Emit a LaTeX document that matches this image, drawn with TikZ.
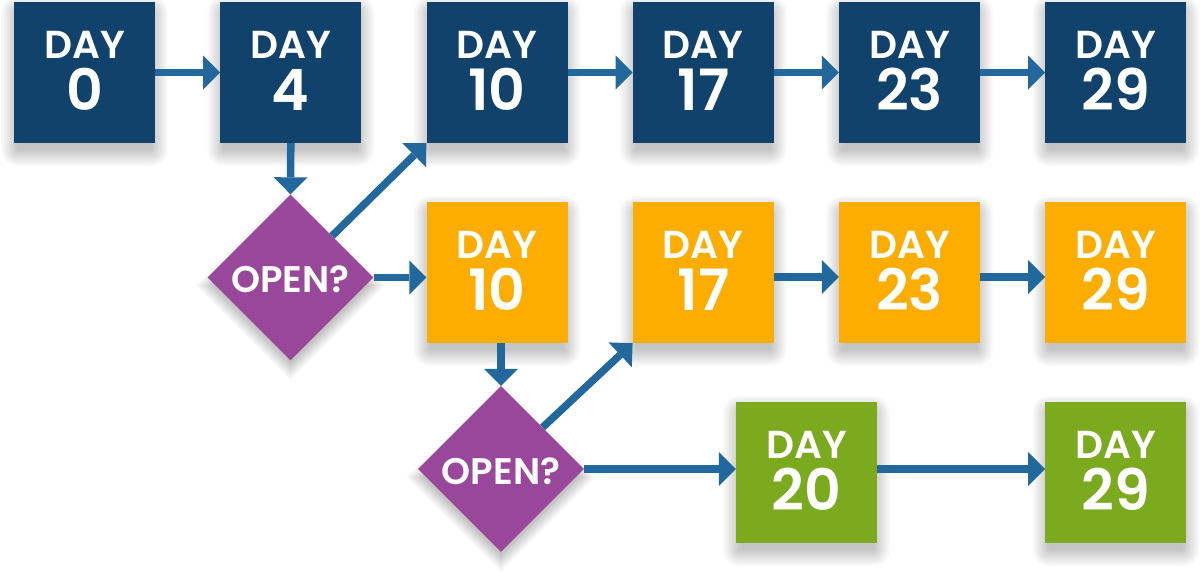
\documentclass[tikz,border=0pt]{standalone}
\usepackage{fontspec}
\setmainfont{Poppins}[BoldFont={Poppins SemiBold}]
\usetikzlibrary{arrows.meta,shapes.geometric}
\definecolor{navy}{HTML}{10426B}
\definecolor{arr}{HTML}{22689D}
\definecolor{purp}{HTML}{99479A}
\definecolor{orng}{HTML}{FDAC00}
\definecolor{grn}{HTML}{7BAA1E}
\tikzset{
  shl/.style={fill=black, opacity=0.02},
  box/.style={rectangle, minimum width=141pt, minimum height=141pt, inner sep=0pt},
  dec/.style={diamond, minimum width=166pt, minimum height=166pt, inner sep=0pt, fill=purp},
  con/.style={draw=arr, line width=7.5pt, -{Triangle[length=17pt,width=34pt,line width=0pt]}},
  dayt/.style={font=\bfseries\fontsize{39}{39}\selectfont, text=white, anchor=base, inner sep=0pt},
  numt/.style={font=\bfseries\fontsize{57}{57}\selectfont, text=white, anchor=base, inner sep=0pt},
  opent/.style={font=\bfseries\fontsize{37}{37}\selectfont, text=white, anchor=base, inner sep=0pt},
}
\newcommand\mkday[5]{%
  \foreach \e in {0,1.5,...,16.5}{%
    \fill[shl, rounded corners=\e pt] ({#2-67-\e},{#3-60-\e}) rectangle ({#2+67+\e},{#3+77+\e});
  }
  \node[box, fill=#4] (#1) at (#2,#3) {};
  \node[dayt] (#1d) at ([yshift=14.2pt]#1.center) {DAY};
  \node[numt] (#1n) at ([yshift=-37.5pt]#1.center) {#5};
}
\newcommand\mkdec[3]{%
  \foreach \e in {0,1.5,...,16.5}{%
    \fill[shl] ({#2-78-\e},{#3+8}) -- ({#2},{#3+8-78-\e}) -- ({#2+78+\e},{#3+8}) -- ({#2},{#3+8+78+\e}) -- cycle;
  }
  \node[dec] (#1) at (#2,#3) {};
  \node[opent] (#1t) at ([yshift=-15pt]#1.center) {OPEN?};
}
\begin{document}
\begin{tikzpicture}[x=1pt,y=-1pt]
\fill[white] (0,0) rectangle (1200,571);
\useasboundingbox (0,0) rectangle (1200,571);
% top row
\mkday{n0}{84.5}{72.5}{navy}{0}
\mkday{n4}{290.8}{72.5}{navy}{4}
\mkday{n10}{497}{72.5}{navy}{10}
\mkday{n17}{703.3}{72.5}{navy}{17}
\mkday{n23}{909.6}{72.5}{navy}{23}
\mkday{n29}{1115.8}{72.5}{navy}{29}
% orange row
\mkday{o10}{497}{272.5}{orng}{10}
\mkday{o17}{703.3}{272.5}{orng}{17}
\mkday{o23}{909.6}{272.5}{orng}{23}
\mkday{o29}{1115.8}{272.5}{orng}{29}
% green row
\mkday{g20}{806.5}{472.5}{grn}{20}
\mkday{g29}{1115.8}{472.5}{grn}{29}
% decisions
\mkdec{q1}{290.5}{277.5}
\mkdec{q2}{501}{469}
% connectors
\draw[con] (n0) -- (n4);
\draw[con] (n10) -- (n17);
\draw[con] (n17) -- (n23);
\draw[con] (n23) -- (n29);
\draw[con] (n4.south) -- (q1.north);
\draw[con] (q1.north east) -- (n10.south west);
\draw[con] (q1.east) -- (q1.east -| o10.west);
\coordinate (a17) at ([yshift=-4.5pt]o17.east);
\coordinate (a23) at ([yshift=-4.5pt]o23.east);
\draw[con] (a17) -- (a17 -| o23.west);
\draw[con] (a23) -- (a23 -| o29.west);
\draw[con] (o10.south -| q2.north) -- (q2.north);
\draw[con] (q2.north east) -- (o17.south west);
\draw[con] (q2.east) -- (q2.east -| g20.west);
\coordinate (a20) at ([yshift=3.5pt]g20.east);
\draw[con] (a20) -- (a20 -| g29.west);
\end{tikzpicture}
\end{document}
